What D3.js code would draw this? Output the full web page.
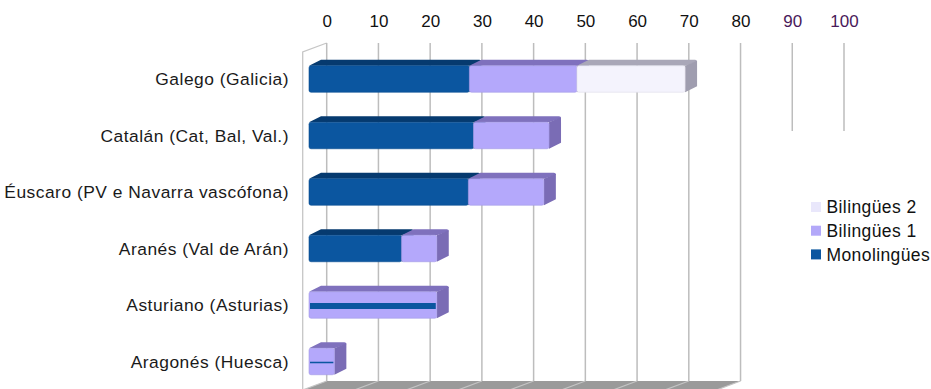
<!DOCTYPE html>
<html lang="es">
<head>
  <meta charset="UTF-8" />
  <title>Hablantes por lingua</title>
  <style>
    body { margin: 0; background: #fff; }
    text { font-family: "Liberation Sans", Arial, sans-serif; }
  </style>
  <script src="https://d3js.org/d3.v7.min.js"></script>
</head>
<body>
  <svg id="chart" width="931" height="389"></svg>

  <script>
    // data (percent)
    const categories = [
      'Galego (Galicia)',
      'Catalán (Cat, Bal, Val.)',
      'Éuscaro (PV e Navarra vascófona)',
      'Aranés (Val de Arán)',
      'Asturiano (Asturias)',
      'Aragonés (Huesca)'
    ];
    const monolingues = [31, 31.8, 30.8, 17.9, 0, 0];
    const bilingues1 = [20.8, 14.6, 14.6, 6.8, 24.7, 4.9];
    const bilingues2 = [20.9, 0, 0, 0, 0, 0];
    const tickValues = [0, 10, 20, 30, 40, 50, 60, 70, 80, 90, 100];
    const seriesNames = ['Monolingües', 'Bilingües 1', 'Bilingües 2'];

    const palette = {
      'Monolingües': { front: '#0b56a0', top: '#063a6f', side: '#06396c', legend: '#0b56a0' },
      'Bilingües 1': { front: '#b4a8fb', top: '#7f71bd', side: '#7a6cb5', legend: '#b3a8f9' },
      'Bilingües 2': { front: '#f4f3fd', top: '#a9a7b8', side: '#9f9daf', legend: '#e9e7fb' }
    };

    const svg = d3.select('#chart');

    // back wall scale (gridlines) and 3D depth
    const x = d3.scaleLinear().domain([0, 100]).range([326.7, 844]);
    const wallDx = -24, wallDy = 9;   // left wall / floor depth
    const barShift = -17.7;           // bar front face vs back wall
    const dx = 12, dy = -6;           // bar depth
    const barH = 26.5;
    const y = d3.scalePoint().domain(categories).range([79, 361.5]);

    const gridTop = 43, gridBottom = 381;

    // floor
    const floor = svg.append('g');
    floor.append('path')
      .attr('d', `M${x(0)},${gridBottom}L${x(80)},${gridBottom}L${x(80) + wallDx},${gridBottom + wallDy}L${x(0) + wallDx},${gridBottom + wallDy}Z`)
      .attr('fill', '#9a9a9a');
    floor.selectAll('line')
      .data(tickValues.filter(v => v <= 80))
      .join('line')
      .attr('x1', d => x(d)).attr('y1', gridBottom)
      .attr('x2', d => x(d) + wallDx).attr('y2', gridBottom + wallDy)
      .attr('stroke', '#c4c4c4').attr('stroke-width', 1.2);

    // left wall edge
    svg.append('path')
      .attr('d', `M${x(0)},${gridTop}L${x(0) + wallDx},${gridTop + wallDy}L${x(0) + wallDx},389`)
      .attr('fill', 'none').attr('stroke', '#c6c6c6').attr('stroke-width', 1.3);

    // gridlines (90 and 100 are drawn short, as in the source)
    svg.append('g').selectAll('line')
      .data(tickValues)
      .join('line')
      .attr('x1', d => x(d)).attr('x2', d => x(d))
      .attr('y1', gridTop)
      .attr('y2', d => d > 80 ? 131 : gridBottom)
      .attr('stroke', '#bdbdbd').attr('stroke-width', 1.5);

    // top axis
    const axis = svg.append('g')
      .attr('transform', 'translate(0,27)')
      .call(d3.axisTop(x).tickValues(tickValues).tickSize(0).tickPadding(0));
    axis.select('.domain').remove();
    axis.selectAll('text')
      .attr('font-size', 17)
      .attr('dy', 0)
      .attr('font-family', '"Liberation Sans", Arial, sans-serif')
      .attr('fill', d => d > 80 ? '#4a1a5a' : '#111');

    // category labels
    svg.append('g').selectAll('text')
      .data(categories)
      .join('text')
      .attr('x', 289)
      .attr('y', d => y(d))
      .attr('dy', '0.35em')
      .attr('text-anchor', 'end')
      .attr('font-size', 17.4)
      .attr('letter-spacing', 0.5)
      .attr('fill', '#1a1a1a')
      .text(d => d);

    // stacked 3D bars
    const rows = categories.map((c, i) => ({
      cat: c,
      'Monolingües': monolingues[i],
      'Bilingües 1': bilingues1[i],
      'Bilingües 2': bilingues2[i]
    }));
    const stacked = d3.stack().keys(seriesNames)(rows);

    const fx = v => x(v) + barShift;
    const bars = svg.append('g');

    rows.forEach((row, i) => {
      const yTop = y(row.cat) - barH / 2;
      const yBot = yTop + barH;
      const segs = stacked.map(s => ({ key: s.key, x0: s[i][0], x1: s[i][1] }))
        .filter(s => s.x1 > s.x0);
      const g = bars.append('g');
      segs.forEach(s => {
        const a = fx(s.x0), b = fx(s.x1);
        const col = palette[s.key];
        // top face
        g.append('path')
          .attr('d', `M${a},${yTop}L${a + dx},${yTop + dy}L${b + dx - 2},${yTop + dy}Q${b + dx},${yTop + dy} ${b + dx},${yTop + dy + 2}L${b},${yTop}Z`)
          .attr('fill', col.top);
        // side face
        g.append('path')
          .attr('d', `M${b},${yTop}L${b + dx},${yTop + dy + 1}L${b + dx},${yBot + dy}L${b},${yBot}Z`)
          .attr('fill', col.side);
        // front face
        g.append('rect')
          .attr('x', a).attr('y', yTop)
          .attr('width', b - a).attr('height', barH)
          .attr('rx', 2)
          .attr('fill', col.front)
          .attr('stroke', d3.color(col.front).darker(0.25))
          .attr('stroke-width', 0.6);
      });
      // zero monolingual value shows as a thin band through the bar
      if (row['Monolingües'] === 0 && segs.length) {
        const last = segs[segs.length - 1];
        const w = fx(last.x1) - fx(0);
        const t = Math.min(6, w * 0.06);
        g.append('rect')
          .attr('x', fx(0) + 1).attr('y', y(row.cat) - t / 2 + 1)
          .attr('width', w - 2).attr('height', t)
          .attr('fill', palette['Monolingües'].front);
      }
    });

    // legend
    const legendItems = ['Bilingües 2', 'Bilingües 1', 'Monolingües'];
    const legend = svg.append('g').attr('transform', 'translate(811,202)');
    const li = legend.selectAll('g')
      .data(legendItems)
      .join('g')
      .attr('transform', (d, i) => `translate(0,${i * 23.7})`);
    li.append('rect')
      .attr('width', 10).attr('height', 10)
      .attr('fill', d => palette[d].legend);
    li.append('text')
      .attr('x', 15.5).attr('y', 5)
      .attr('dy', '0.36em')
      .attr('font-size', 17.5)
      .attr('letter-spacing', 0.4)
      .attr('fill', '#111')
      .text(d => d);
  </script>
</body>
</html>
